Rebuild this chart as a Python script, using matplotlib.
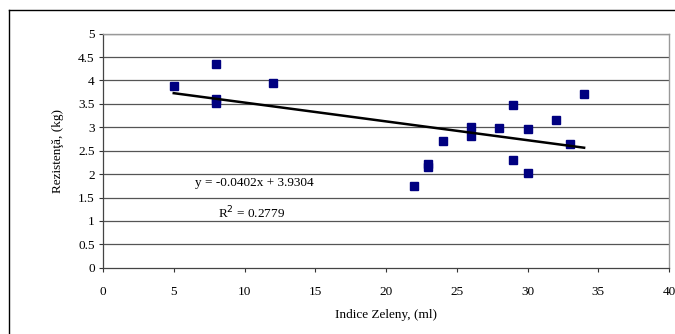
import matplotlib.pyplot as plt
import numpy as np
from matplotlib.lines import Line2D

plt.rcParams['font.family'] = ['Liberation Serif', 'DejaVu Serif']

# Data
zeleny = [5, 8, 8, 8, 12, 22, 23, 23, 24, 26, 26, 28, 29, 29, 30, 30, 32, 33, 34]
rezistenta = [3.88, 4.35, 3.60, 3.52, 3.95, 1.75, 2.22, 2.15, 2.71, 3.01, 2.82,
              2.99, 3.48, 2.31, 2.96, 2.03, 3.16, 2.64, 3.71]

slope = -0.0402
intercept = 3.9304
r2 = 0.2779

fs = 9.5

fig = plt.figure(figsize=(6.75, 3.34), dpi=100)
ax = fig.add_axes([103 / 675, 1 - 267.7 / 334, 566 / 675, 234 / 334])

# Horizontal gridlines
for yv in np.arange(0.5, 5.01, 0.5):
    ax.axhline(yv, c='#555555', lw=0.9, zorder=1)

# Points
ax.plot(zeleny, rezistenta, 's', c='#000080', ms=6.2, mec='#000080', zorder=3)

# Linear trendline
xt = np.array([min(zeleny), max(zeleny)])
ax.plot(xt, slope * xt + intercept, c='black', lw=1.8, zorder=4)

ax.text(6.5, 1.8, f'y = {slope}x + {intercept}', fontsize=fs, ha='left', va='center')
ax.text(8.1, 1.17, f'R$^2$ = {r2}', fontsize=fs, ha='left', va='center')

ax.set_xlim(0, 40)
ax.set_ylim(0, 5)
ax.set_xticks(np.arange(0, 41, 5))
ax.set_yticks(np.arange(0, 5.01, 0.5))
ax.set_yticklabels(['0', '0.5', '1', '1.5', '2', '2.5', '3', '3.5', '4', '4.5', '5'])
ax.tick_params(axis='both', labelsize=fs, direction='out', length=3, width=0.8, color='#333333')
ax.tick_params(axis='x', pad=10)
ax.tick_params(axis='y', pad=3)

for side in ['top', 'right']:
    ax.spines[side].set_color('#999999')
    ax.spines[side].set_linewidth(1.0)
for side in ['left', 'bottom']:
    ax.spines[side].set_color('#444444')
    ax.spines[side].set_linewidth(0.9)

ax.set_xlabel('Indice Zeleny, (ml)', fontsize=fs, labelpad=8)
ax.set_ylabel('Rezistenţă, (kg)', fontsize=fs, labelpad=10)

# Outer frame (left and top visible)
fig.add_artist(Line2D([9 / 675, 9 / 675], [0, 1 - 10 / 334], transform=fig.transFigure, c='black', lw=1.0))
fig.add_artist(Line2D([9 / 675, 1], [1 - 10 / 334, 1 - 10 / 334], transform=fig.transFigure, c='black', lw=1.0))

fig.savefig('out.png', dpi=100)
